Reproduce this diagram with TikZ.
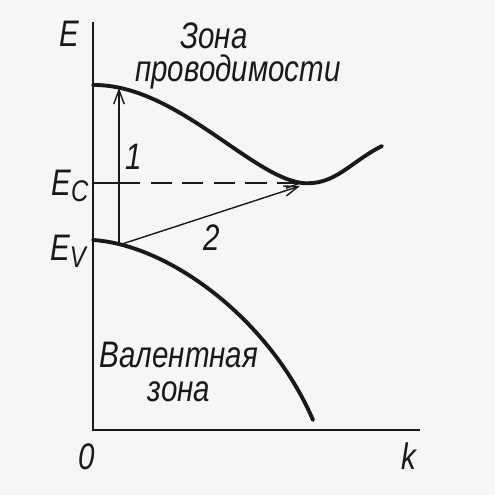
\documentclass[tikz,border=0pt]{standalone}
\usepackage{fontspec}
\setmainfont{Liberation Sans}
\newfontfamily\schrift[FakeStretch=0.8]{Liberation Sans}
\usepackage{xcolor}
\usepackage{tikz}
\usetikzlibrary{arrows.meta,calc}
\definecolor{papier}{RGB}{246,246,244}
\definecolor{encre}{RGB}{25,25,25}

\begin{document}
\begin{tikzpicture}[x=0.02cm,y=-0.02cm,
    lbl/.style={font=\schrift\fontsize{21}{19}\selectfont\itshape,text=encre,inner sep=0pt},
    band/.style={encre,line width=2.2pt,line cap=round},
    trans/.style={encre,line width=0.8pt,-{Straight Barb[length=8pt,width=6pt]}}]
    \fill[papier] (0,0) rectangle (495,495);
    \useasboundingbox (0,0) rectangle (495,495);
    % axes
    \coordinate (O) at (93,430);
    \coordinate (Etop) at (93,22);
    \coordinate (kend) at (420,430);
    \draw[encre,line width=1.6pt] (Etop) -- (O) -- (kend);
    % bands
    \coordinate (cbtop) at (93,85);
    \coordinate (cbmin) at (302,183);
    \coordinate (cbend) at (382,146);
    \coordinate (vbtop) at (93,240);
    \coordinate (vbend) at (313,420);
    \draw[band] (cbtop) .. controls (175,84) and (250,176) .. (cbmin)
                        .. controls (335,186) and (350,162) .. (cbend);
    \draw[band] (vbtop) .. controls (170,245) and (270,320) .. (vbend);
    % transitions
    \coordinate (vk) at (119,245);
    \coordinate (ck) at (119,88);
    \coordinate (ec) at (93,183);
    \coordinate (eck) at (119,183);
    \draw[trans] (vk) -- (ck);
    \draw[encre,line width=0.8pt] (ec) -- (eck);
    \draw[trans,dash pattern=on 12pt off 6pt] (eck) -- (cbmin);
    \draw[trans] (vk) -- ($(cbmin)+(-2,3)$);
    % labels
    \node[lbl] (lE) at (69,34) {E};
    \node[lbl] (lEc) at (70,186) {E\raisebox{-0.35ex}{\fontsize{17}{17}\selectfont C}};
    \node[lbl] (lEv) at (68,251) {E\raisebox{-0.35ex}{\fontsize{17}{17}\selectfont V}};
    \node[lbl] (l1) at (134,157) {1};
    \node[lbl] (l2) at (212,238) {2};
    \node[lbl] (l0) at (87,457) {0};
    \node[lbl] (lk) at (409,456) {k};
    \node[lbl,align=center] (zc) at (238,56) {Зона\hspace*{0.96cm}\\проводимости};
    \node[lbl,align=center] (zv) at (179,372) {Валентная\\зона};
  \end{tikzpicture}
\end{document}
